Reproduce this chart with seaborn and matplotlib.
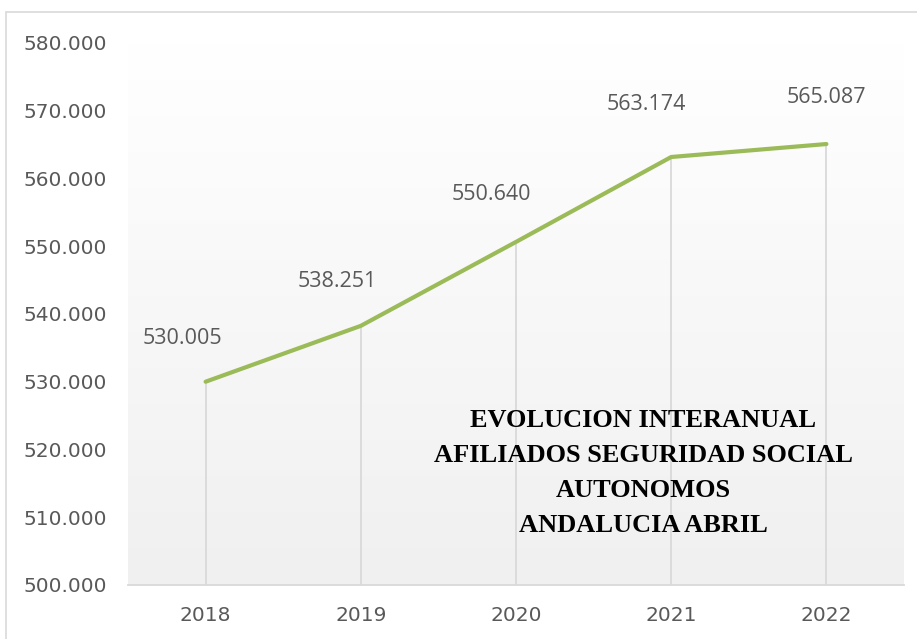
import numpy as np
import pandas as pd
import matplotlib
matplotlib.use('Agg')
import matplotlib.pyplot as plt
from matplotlib.colors import LinearSegmentedColormap
from matplotlib.patches import Rectangle
from matplotlib.ticker import FuncFormatter
import seaborn as sns

# data
years = [2018, 2019, 2020, 2021, 2022]
afiliados = [530005, 538251, 550640, 563174, 565087]
y_ticks = [500000, 510000, 520000, 530000, 540000, 550000, 560000, 570000, 580000]
title_lines = ['EVOLUCION INTERANUAL', 'AFILIADOS SEGURIDAD SOCIAL', 'AUTONOMOS', 'ANDALUCIA ABRIL']

# offsets (pixels) of each data label relative to its point
label_offsets = [(-23, 43), (-24, 44), (-25, 47), (-25, 52), (0, 47)]

df = pd.DataFrame({'Year': years, 'Afiliados': afiliados})

sns.set_style('white')

fig = plt.figure(figsize=(9.17, 6.39), dpi=100)
ax = fig.add_axes([128 / 917, 1 - 585 / 639, 776 / 917, 542 / 639])

# chart area border (cut at the right and bottom like the screenshot)
fig.add_artist(Rectangle((6 / 917, -0.5), 2, 0.5 + (1 - 12 / 639), transform=fig.transFigure,
                         facecolor='none', edgecolor='#d9d9d9', lw=1.2, clip_on=False))

# plot area gradient, white on top to light grey at the bottom
grad = np.linspace(1, 0, 256).reshape(-1, 1)
cmap = LinearSegmentedColormap.from_list('bg', ['#f0f0f0', '#ffffff'])
ax.imshow(grad, cmap=cmap, aspect='auto', extent=[0, 1, 0, 1], transform=ax.transAxes, zorder=0)

# drop lines from each point to the axis
ax.vlines(df['Year'], 500000, df['Afiliados'], color='#d9d9d9', lw=1.3, zorder=1)

sns.lineplot(data=df, x='Year', y='Afiliados', color='#9bbb59', lw=3, ax=ax, zorder=3,
             solid_capstyle='round')

ax.set_xlim(2017.5, 2022.5)
ax.set_ylim(500000, 580000)
ax.set_xticks(years)
ax.set_yticks(y_ticks)
ax.yaxis.set_major_formatter(FuncFormatter(lambda v, p: f'{int(v):,}'.replace(',', '.')))
ax.tick_params(axis='both', length=0, labelsize=14.5, labelcolor='#595959')
ax.tick_params(axis='y', pad=15)
ax.tick_params(axis='x', pad=15)
ax.set_xlabel('')
ax.set_ylabel('')

for s in ['top', 'right', 'left']:
    ax.spines[s].set_visible(False)
ax.spines['bottom'].set_color('#d9d9d9')
ax.spines['bottom'].set_linewidth(1.3)

# data labels
for (x, y), (dx, dy) in zip(zip(years, afiliados), label_offsets):
    ax.annotate(f'{y:,}'.replace(',', '.'), (x, y), xytext=(dx, dy), textcoords='offset pixels',
                ha='center', va='center', fontsize=15.5, color='#595959', family='Open Sans')

# title placed inside the plot area
ax.text(0.6637, 0.2066, '\n'.join(title_lines), transform=ax.transAxes, ha='center', va='center',
        fontsize=19, fontweight='bold', family='Liberation Serif', color='black', linespacing=1.65)

fig.savefig('out.png', dpi=100)
